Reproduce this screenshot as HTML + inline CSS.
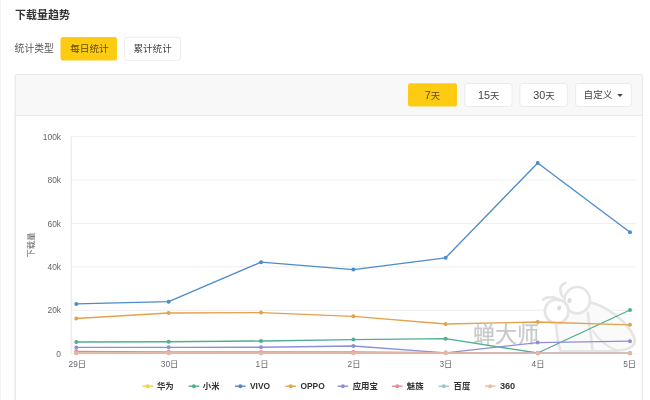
<!DOCTYPE html>
<html lang="zh-CN"><head><meta charset="utf-8"><title>下载量趋势</title>
<style>html,body{margin:0;padding:0;background:#fff;width:650px;height:400px;overflow:hidden}svg{display:block}text{font-family:'Liberation Sans','Noto Sans CJK SC',sans-serif}</style></head><body>
<svg width="650" height="400" viewBox="0 0 650 400">
<rect width="650" height="400" fill="#fff"/>
<rect x="0" y="0" width="1" height="400" fill="#f3f3f3"/>
<text x="15" y="18.7" font-size="11" font-weight="bold" fill="#333">下载量趋势</text>
<text x="14.6" y="52.3" font-size="9.8" fill="#555">统计类型</text>
<rect x="60.5" y="37" width="56.5" height="23.5" rx="2.5" fill="#fccb12"/>
<text x="89.4" y="52.2" font-size="9.6" fill="#5a4a10" text-anchor="middle">每日统计</text>
<rect x="124.5" y="37.3" width="56" height="23" rx="2.5" fill="#fff" stroke="#ebebeb" stroke-width="1"/>
<text x="152.6" y="52.2" font-size="9.6" fill="#444" text-anchor="middle">累计统计</text>
<rect x="15.2" y="74.5" width="627.2" height="340" rx="2" fill="#fff" stroke="#e8e8e8" stroke-width="1"/>
<path d="M15.2 76.5 a2 2 0 0 1 2 -2 H640.4 a2 2 0 0 1 2 2 V115 H15.2 Z" fill="#f8f8f8"/>
<rect x="15.2" y="74.5" width="627.2" height="340" rx="2" fill="none" stroke="#e8e8e8" stroke-width="1"/>
<line x1="15.2" y1="115.5" x2="642.4" y2="115.5" stroke="#e8e8e8" stroke-width="1"/>
<rect x="408" y="83.3" width="49" height="23.2" rx="2.5" fill="#fccb12"/>
<text x="432.5" y="98.5" font-size="9.8" fill="#5a4a10" text-anchor="middle"><tspan font-size="10.8">7</tspan><tspan font-size="9.4">天</tspan></text>
<rect x="464.8" y="83.5" width="47.2" height="23" rx="2.5" fill="#fff" stroke="#ebebeb" stroke-width="1"/>
<text x="488.7" y="98.5" font-size="9.8" fill="#444" text-anchor="middle"><tspan font-size="10.8">15</tspan><tspan font-size="9.4">天</tspan></text>
<rect x="519.8" y="83.5" width="47.6" height="23" rx="2.5" fill="#fff" stroke="#ebebeb" stroke-width="1"/>
<text x="543.9" y="98.5" font-size="9.8" fill="#444" text-anchor="middle"><tspan font-size="10.8">30</tspan><tspan font-size="9.4">天</tspan></text>
<rect x="575.6" y="83.5" width="55.8" height="23" rx="2.5" fill="#fff" stroke="#ebebeb" stroke-width="1"/>
<text x="583.6" y="98.4" font-size="9.6" fill="#444">自定义</text>
<path d="M617.2 94 h5.6 l-2.8 3 z" fill="#444"/>
<line x1="71.3" y1="353.70" x2="635.6" y2="353.70" stroke="#ebebeb" stroke-width="0.8"/>
<text x="61" y="356.90" font-size="8.4" fill="#666" text-anchor="end">0</text>
<line x1="71.3" y1="310.28" x2="635.6" y2="310.28" stroke="#ebebeb" stroke-width="0.8"/>
<text x="61" y="313.48" font-size="8.4" fill="#666" text-anchor="end">20k</text>
<line x1="71.3" y1="266.86" x2="635.6" y2="266.86" stroke="#ebebeb" stroke-width="0.8"/>
<text x="61" y="270.06" font-size="8.4" fill="#666" text-anchor="end">40k</text>
<line x1="71.3" y1="223.44" x2="635.6" y2="223.44" stroke="#ebebeb" stroke-width="0.8"/>
<text x="61" y="226.64" font-size="8.4" fill="#666" text-anchor="end">60k</text>
<line x1="71.3" y1="180.02" x2="635.6" y2="180.02" stroke="#ebebeb" stroke-width="0.8"/>
<text x="61" y="183.22" font-size="8.4" fill="#666" text-anchor="end">80k</text>
<line x1="71.3" y1="136.60" x2="635.6" y2="136.60" stroke="#ebebeb" stroke-width="0.8"/>
<text x="61" y="139.80" font-size="8.4" fill="#666" text-anchor="end">100k</text>
<line x1="71.3" y1="136.6" x2="71.3" y2="353.7" stroke="#e0e0e0" stroke-width="0.8"/>
<text transform="translate(33.5,245) rotate(-90)" font-size="8.3" fill="#666" text-anchor="middle">下载量</text>
<text x="77.3" y="367.3" font-size="8.3" fill="#666" text-anchor="middle">29日</text>
<text x="169.6" y="367.3" font-size="8.3" fill="#666" text-anchor="middle">30日</text>
<text x="262.0" y="367.3" font-size="8.3" fill="#666" text-anchor="middle">1日</text>
<text x="354.0" y="367.3" font-size="8.3" fill="#666" text-anchor="middle">2日</text>
<text x="445.9" y="367.3" font-size="8.3" fill="#666" text-anchor="middle">3日</text>
<text x="538.0" y="367.3" font-size="8.3" fill="#666" text-anchor="middle">4日</text>
<text x="629.6" y="367.3" font-size="8.3" fill="#666" text-anchor="middle">5日</text>
<g fill="none" stroke="#e5e5e5" stroke-width="2.7" stroke-linecap="round" stroke-linejoin="round">
<path d="M590.5 302.5 C606 306 628 322 634 337 C637 345 630 350.5 617 350.5 L560.3 350.5 L556 325 Z" fill="#fafafa" stroke="none"/>
<ellipse cx="577.2" cy="300.2" rx="12.7" ry="13.2" fill="#fff"/>
<ellipse cx="556.7" cy="311.3" rx="11.8" ry="12" fill="#fff"/>
<path d="M562.6 296.5 C559.3 291 559.3 285 565.5 283"/>
<path d="M543 299.8 C547 296 554 296 559.5 300.5"/>
<path d="M556 325 C556.8 335 558 343 560.3 350.5"/>
<path d="M590.5 302.5 C606 306 628 322 634 337 C637 345 630 350.5 617 350.5"/>
<path d="M593 331 C599 340 607 347 617 350.5" stroke-width="2.2"/>
<path d="M587.8 313 C589.5 325 591.5 340 592.5 350.5"/>
<path d="M560.3 351 L617 351" stroke-width="2"/>
</g>
<ellipse cx="569.5" cy="300.6" rx="2" ry="2.5" fill="#dcdcdc" transform="rotate(25 569.5 300.6)"/><ellipse cx="559.2" cy="308" rx="2" ry="2.5" fill="#dcdcdc" transform="rotate(25 559.2 308)"/>
<text x="473" y="341.6" font-size="22" fill="#c8c9cc" stroke="#c8c9cc" stroke-width="0.25">蝉大师</text>
<polyline points="76.3,353.3 168.6,353.3 261.0,353.3 353.4,353.3 445.6,353.3 537.7,353.3 630.0,353.3" fill="none" stroke="#e6d84a" stroke-width="1.35" stroke-linejoin="round" stroke-linecap="round"/>
<circle cx="76.3" cy="353.3" r="2" fill="#e6d84a"/>
<circle cx="168.6" cy="353.3" r="2" fill="#e6d84a"/>
<circle cx="261.0" cy="353.3" r="2" fill="#e6d84a"/>
<circle cx="353.4" cy="353.3" r="2" fill="#e6d84a"/>
<circle cx="445.6" cy="353.3" r="2" fill="#e6d84a"/>
<circle cx="537.7" cy="353.3" r="2" fill="#e6d84a"/>
<circle cx="630.0" cy="353.3" r="2" fill="#e6d84a"/>
<polyline points="76.3,342.0 168.6,341.7 261.0,341.0 353.4,339.6 445.6,338.7 537.7,353.0 630.0,310.0" fill="none" stroke="#50ae92" stroke-width="1.35" stroke-linejoin="round" stroke-linecap="round"/>
<circle cx="76.3" cy="342.0" r="2" fill="#50ae92"/>
<circle cx="168.6" cy="341.7" r="2" fill="#50ae92"/>
<circle cx="261.0" cy="341.0" r="2" fill="#50ae92"/>
<circle cx="353.4" cy="339.6" r="2" fill="#50ae92"/>
<circle cx="445.6" cy="338.7" r="2" fill="#50ae92"/>
<circle cx="537.7" cy="353.0" r="2" fill="#50ae92"/>
<circle cx="630.0" cy="310.0" r="2" fill="#50ae92"/>
<polyline points="76.3,303.9 168.6,301.7 261.0,262.2 353.4,269.6 445.6,257.8 537.7,163.0 630.0,232.2" fill="none" stroke="#4e8cc8" stroke-width="1.35" stroke-linejoin="round" stroke-linecap="round"/>
<circle cx="76.3" cy="303.9" r="2" fill="#4e8cc8"/>
<circle cx="168.6" cy="301.7" r="2" fill="#4e8cc8"/>
<circle cx="261.0" cy="262.2" r="2" fill="#4e8cc8"/>
<circle cx="353.4" cy="269.6" r="2" fill="#4e8cc8"/>
<circle cx="445.6" cy="257.8" r="2" fill="#4e8cc8"/>
<circle cx="537.7" cy="163.0" r="2" fill="#4e8cc8"/>
<circle cx="630.0" cy="232.2" r="2" fill="#4e8cc8"/>
<polyline points="76.3,318.5 168.6,313.0 261.0,312.6 353.4,316.3 445.6,324.0 537.7,322.0 630.0,324.8" fill="none" stroke="#e3a24c" stroke-width="1.35" stroke-linejoin="round" stroke-linecap="round"/>
<circle cx="76.3" cy="318.5" r="2" fill="#e3a24c"/>
<circle cx="168.6" cy="313.0" r="2" fill="#e3a24c"/>
<circle cx="261.0" cy="312.6" r="2" fill="#e3a24c"/>
<circle cx="353.4" cy="316.3" r="2" fill="#e3a24c"/>
<circle cx="445.6" cy="324.0" r="2" fill="#e3a24c"/>
<circle cx="537.7" cy="322.0" r="2" fill="#e3a24c"/>
<circle cx="630.0" cy="324.8" r="2" fill="#e3a24c"/>
<polyline points="76.3,347.4 168.6,347.3 261.0,347.2 353.4,346.0 445.6,352.8 537.7,342.6 630.0,341.2" fill="none" stroke="#8d8fd6" stroke-width="1.35" stroke-linejoin="round" stroke-linecap="round"/>
<circle cx="76.3" cy="347.4" r="2" fill="#8d8fd6"/>
<circle cx="168.6" cy="347.3" r="2" fill="#8d8fd6"/>
<circle cx="261.0" cy="347.2" r="2" fill="#8d8fd6"/>
<circle cx="353.4" cy="346.0" r="2" fill="#8d8fd6"/>
<circle cx="445.6" cy="352.8" r="2" fill="#8d8fd6"/>
<circle cx="537.7" cy="342.6" r="2" fill="#8d8fd6"/>
<circle cx="630.0" cy="341.2" r="2" fill="#8d8fd6"/>
<polyline points="76.3,351.3 168.6,351.8 261.0,352.0 353.4,352.0 445.6,352.6 537.7,353.2 630.0,353.2" fill="none" stroke="#e8848f" stroke-width="1.35" stroke-linejoin="round" stroke-linecap="round"/>
<circle cx="76.3" cy="351.3" r="2" fill="#e8848f"/>
<circle cx="168.6" cy="351.8" r="2" fill="#e8848f"/>
<circle cx="261.0" cy="352.0" r="2" fill="#e8848f"/>
<circle cx="353.4" cy="352.0" r="2" fill="#e8848f"/>
<circle cx="445.6" cy="352.6" r="2" fill="#e8848f"/>
<circle cx="537.7" cy="353.2" r="2" fill="#e8848f"/>
<circle cx="630.0" cy="353.2" r="2" fill="#e8848f"/>
<polyline points="76.3,353.2 168.6,353.2 261.0,353.2 353.4,353.2 445.6,353.2 537.7,353.2 630.0,353.2" fill="none" stroke="#a0c4d4" stroke-width="1.35" stroke-linejoin="round" stroke-linecap="round"/>
<circle cx="76.3" cy="353.2" r="2" fill="#a0c4d4"/>
<circle cx="168.6" cy="353.2" r="2" fill="#a0c4d4"/>
<circle cx="261.0" cy="353.2" r="2" fill="#a0c4d4"/>
<circle cx="353.4" cy="353.2" r="2" fill="#a0c4d4"/>
<circle cx="445.6" cy="353.2" r="2" fill="#a0c4d4"/>
<circle cx="537.7" cy="353.2" r="2" fill="#a0c4d4"/>
<circle cx="630.0" cy="353.2" r="2" fill="#a0c4d4"/>
<polyline points="76.3,353.0 168.6,353.0 261.0,353.0 353.4,353.0 445.6,353.0 537.7,353.3 630.0,353.3" fill="none" stroke="#edb5a0" stroke-width="1.35" stroke-linejoin="round" stroke-linecap="round"/>
<circle cx="76.3" cy="353.0" r="2" fill="#edb5a0"/>
<circle cx="168.6" cy="353.0" r="2" fill="#edb5a0"/>
<circle cx="261.0" cy="353.0" r="2" fill="#edb5a0"/>
<circle cx="353.4" cy="353.0" r="2" fill="#edb5a0"/>
<circle cx="445.6" cy="353.0" r="2" fill="#edb5a0"/>
<circle cx="537.7" cy="353.3" r="2" fill="#edb5a0"/>
<circle cx="630.0" cy="353.3" r="2" fill="#edb5a0"/>
<line x1="142.5" y1="386.2" x2="153.1" y2="386.2" stroke="#e6d84a" stroke-width="1.4"/>
<circle cx="147.8" cy="386.2" r="2" fill="#e6d84a"/>
<text x="157.0" y="389.3" font-size="8.4" font-weight="bold" fill="#333">华为</text>
<line x1="188.6" y1="386.2" x2="199.2" y2="386.2" stroke="#50ae92" stroke-width="1.4"/>
<circle cx="193.9" cy="386.2" r="2" fill="#50ae92"/>
<text x="202.8" y="389.3" font-size="8.4" font-weight="bold" fill="#333">小米</text>
<line x1="235.0" y1="386.2" x2="245.6" y2="386.2" stroke="#4e8cc8" stroke-width="1.4"/>
<circle cx="240.3" cy="386.2" r="2" fill="#4e8cc8"/>
<text x="250.0" y="389.3" font-size="8.4" font-weight="bold" fill="#333">VIVO</text>
<line x1="285.4" y1="386.2" x2="296.0" y2="386.2" stroke="#e3a24c" stroke-width="1.4"/>
<circle cx="290.7" cy="386.2" r="2" fill="#e3a24c"/>
<text x="300.5" y="389.3" font-size="8.4" font-weight="bold" fill="#333">OPPO</text>
<line x1="337.6" y1="386.2" x2="348.2" y2="386.2" stroke="#8d8fd6" stroke-width="1.4"/>
<circle cx="342.9" cy="386.2" r="2" fill="#8d8fd6"/>
<text x="352.7" y="389.3" font-size="8.4" font-weight="bold" fill="#333">应用宝</text>
<line x1="392.0" y1="386.2" x2="402.6" y2="386.2" stroke="#e98a9c" stroke-width="1.4"/>
<circle cx="397.3" cy="386.2" r="2" fill="#e98a9c"/>
<text x="406.8" y="389.3" font-size="8.4" font-weight="bold" fill="#333">魅族</text>
<line x1="438.5" y1="386.2" x2="449.1" y2="386.2" stroke="#a0c4d4" stroke-width="1.4"/>
<circle cx="443.8" cy="386.2" r="2" fill="#a0c4d4"/>
<text x="453.6" y="389.3" font-size="8.4" font-weight="bold" fill="#333">百度</text>
<line x1="484.8" y1="386.2" x2="495.4" y2="386.2" stroke="#ecbba0" stroke-width="1.4"/>
<circle cx="490.1" cy="386.2" r="2" fill="#ecbba0"/>
<text x="499.9" y="389.3" font-size="9.2" font-weight="bold" fill="#333">360</text>
</svg></body></html>
